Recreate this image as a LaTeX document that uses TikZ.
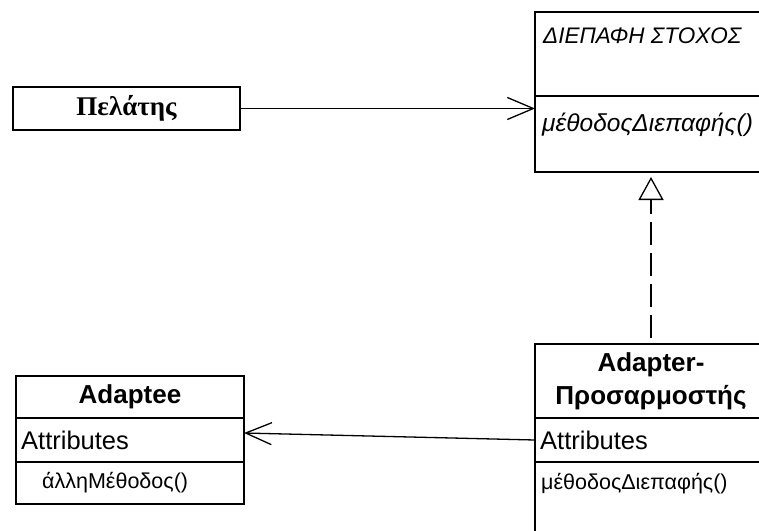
\documentclass[tikz,border=0pt]{standalone}
\usepackage{fontspec}
\setmainfont{Liberation Sans}
\newfontfamily\clientfont{Liberation Serif}
\usetikzlibrary{positioning, arrows.meta}

\begin{document}
\begin{tikzpicture}[x=1pt, y=-1pt,
    box/.style={draw, line width=1.6pt, inner sep=0pt, outer sep=0pt, anchor=north west},
    title/.style={font=\bfseries\fontsize{26}{33}\selectfont, align=center},
    attr/.style={inner sep=0pt, font=\fontsize{25.5}{27}\selectfont},
    oper/.style={inner sep=0pt, font=\fontsize{21.5}{23}\selectfont},
    iface/.style={inner sep=0pt, font=\itshape\fontsize{22.5}{24}\selectfont},
    assoc/.style={-{Straight Barb[length=26pt, width=22pt]}, line width=1.3pt},
    realize/.style={-{Triangle[open, length=23pt, width=25pt]}, line width=1.3pt,
      dash pattern=on 23pt off 8pt, dash phase=25pt}]
  \useasboundingbox (0,0) rectangle (759,530);
  \clip (0,0) rectangle (759,530);
  \fill[white] (0,0) rectangle (759,530);

  % client
  \node[box, minimum width=227pt, minimum height=43pt,
    font=\clientfont\bfseries\fontsize{27}{29}\selectfont] (client) at (13,87) {Πελάτης};

  % target interface
  \node[box, minimum width=232pt, minimum height=84pt] (tgtName) at (535,12) {};
  \node[box, minimum width=232pt, minimum height=76pt] (tgtOps) at (tgtName.south west) {};
  \node[iface, below right=16pt and 8pt of tgtName.north west] (tgtLabel) {ΔΙΕΠΑΦΗ ΣΤΟΧΟΣ};
  \node[iface, font=\itshape\fontsize{24.5}{26}\selectfont,
    below right=17pt and 7pt of tgtOps.north west] (tgtOpsText) {μέθοδοςΔιεπαφής()};

  % adaptee
  \node[box, minimum width=228pt, minimum height=42pt, title] (adapteeName) at (16,376) {Adaptee};
  \node[box, minimum width=228pt, minimum height=44pt] (adapteeAttr) at (adapteeName.south west) {};
  \node[box, minimum width=228pt, minimum height=42pt] (adapteeOps) at (adapteeAttr.south west) {};
  \node[attr, right=5pt of adapteeAttr.west] (adapteeAttrText) {Attributes};
  \node[oper, right=26pt of adapteeOps.west] (adapteeOpsText) {άλληΜέθοδος()};

  % adapter
  \node[box, minimum width=232pt, minimum height=74pt, title] (adapterName) at (535,344) {Adapter-\\Προσαρμοστής};
  \node[box, minimum width=232pt, minimum height=44pt] (adapterAttr) at (adapterName.south west) {};
  \node[box, minimum width=232pt, minimum height=90pt] (adapterOps) at (adapterAttr.south west) {};
  \node[attr, right=5pt of adapterAttr.west] (adapterAttrText) {Attributes};
  \node[oper, below right=11pt and 6pt of adapterOps.north west] (adapterOpsText) {μέθοδοςΔιεπαφής()};

  % connectors
  \draw[assoc] (client.east) -- (client.east -| tgtOps.west);
  \draw[realize, shorten >=5pt] (adapterName.north) -- (tgtOps.south);
  \draw[assoc] (adapterAttr.west) -- ([yshift=7pt]adapteeAttr.east);
\end{tikzpicture}
\end{document}
